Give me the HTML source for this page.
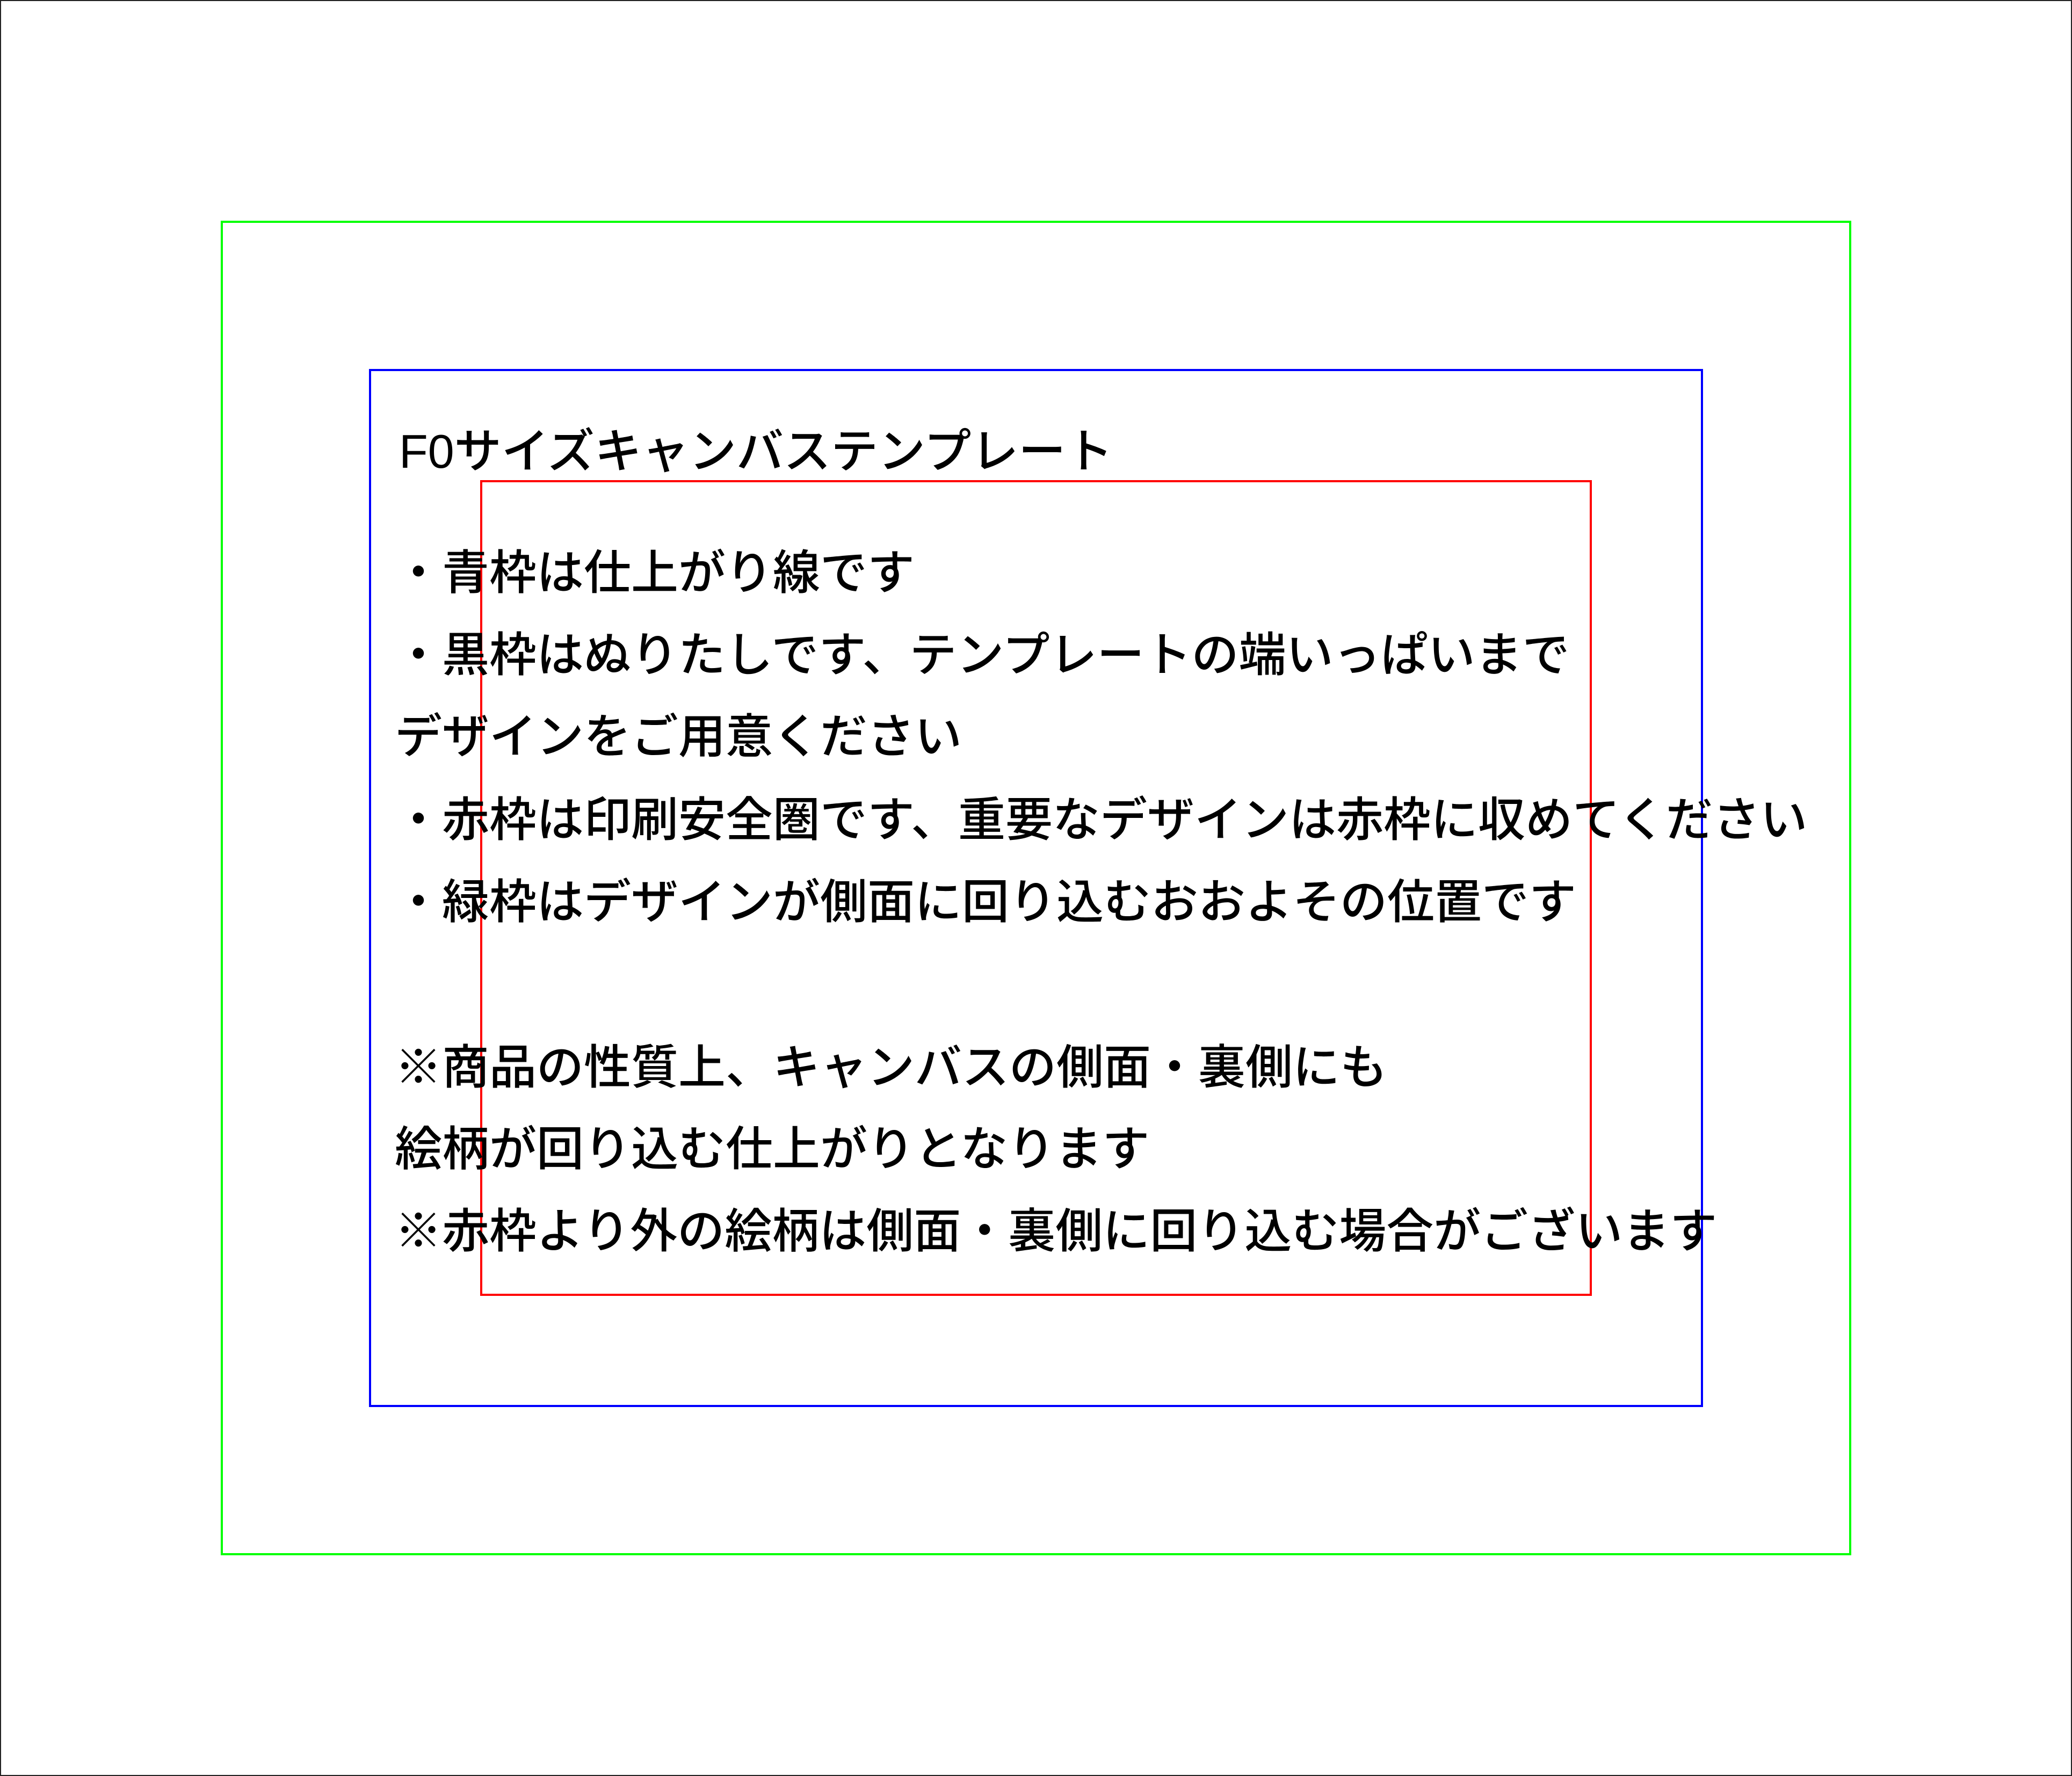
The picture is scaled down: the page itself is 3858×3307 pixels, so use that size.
<!DOCTYPE html>
<html><head><meta charset="utf-8">
<style>
html,body{margin:0;padding:0;background:#fff;}
#c{position:relative;width:3858px;height:3307px;overflow:hidden;background:#fff;box-sizing:border-box;border:2px solid #222;}
.r{position:absolute;box-sizing:border-box;border:4px solid;}
.t{position:absolute;left:733px;height:100px;line-height:100px;font-size:88px;font-weight:500;white-space:nowrap;color:#000;
font-family:"Liberation Sans","Noto Sans CJK JP",sans-serif;}
</style></head><body>
<div id="c">
<div class="r" style="left:409px;top:409px;width:3036px;height:2485px;border-color:#00ff00"></div>
<div class="r" style="left:685px;top:685px;width:2484px;height:1933px;border-color:#0000ff"></div>
<div class="r" style="left:892px;top:892px;width:2070px;height:1519px;border-color:#ff0000"></div>
<div class="t" style="top:789px;left:741px;">F0サイズキャンバステンプレート</div>
<div class="t" style="top:1015px">・青枠は仕上がり線です</div>
<div class="t" style="top:1168px">・黒枠はぬりたしです、テンプレートの端いっぱいまで</div>
<div class="t" style="top:1320px">デザインをご用意ください</div>
<div class="t" style="top:1475px">・赤枠は印刷安全圏です、重要なデザインは赤枠に収めてください</div>
<div class="t" style="top:1628px">・緑枠はデザインが側面に回り込むおおよその位置です</div>
<div class="t" style="top:1936px">※商品の性質上、キャンバスの側面・裏側にも</div>
<div class="t" style="top:2088px">絵柄が回り込む仕上がりとなります</div>
<div class="t" style="top:2241px">※赤枠より外の絵柄は側面・裏側に回り込む場合がございます</div>
</div>
</body></html>
